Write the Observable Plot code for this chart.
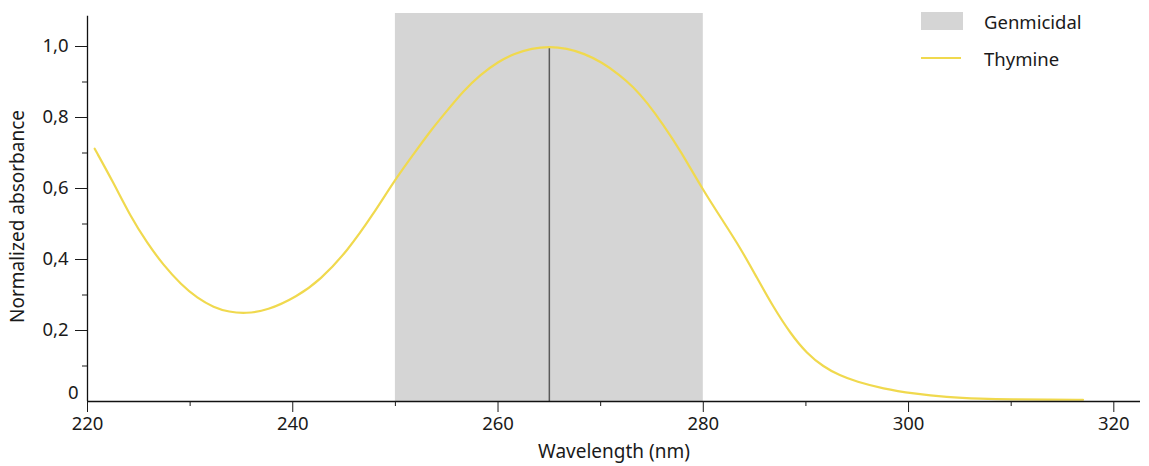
<!DOCTYPE html>
<html>
<head>
<meta charset="utf-8">
<script src="https://cdn.jsdelivr.net/npm/d3@7"></script>
<script src="https://cdn.jsdelivr.net/npm/@observablehq/plot@0.6"></script>
<style>
  body { margin: 0; background: #fff; font-family: "Noto Sans", sans-serif; }
  #wrap { position: relative; width: 1149px; height: 466px; }
  .legend { position: absolute; left: 921px; top: 6px; font-size: 18.5px; color: #1a1a1a; }
  .legend .row { display: flex; align-items: center; height: 30px; margin-bottom: 7px; }
  .legend .sw { width: 42px; margin-right: 21px; }
</style>
</head>
<body>
<div id="wrap"></div>
<script>
// Data
const wavelength = [220.7, 222.5, 224.2, 225.8, 227.4, 229.1, 230.7, 232.3, 233.8, 235.4, 237.5, 240.4, 242.7, 245.3, 247.9, 249.8, 251.8, 253.4, 255.0, 256.6, 258.3, 260.0, 261.6, 263.3, 265.0, 266.7, 268.4, 270.1, 271.8, 273.2, 274.5, 276.1, 277.7, 280.0, 282.0, 283.6, 285.2, 286.8, 288.5, 290.1, 291.7, 293.3, 294.9, 297.5, 300.5, 303.7, 307.0, 310.2, 313.5, 317.0];
const absorbance = [0.712, 0.618, 0.521, 0.447, 0.384, 0.330, 0.291, 0.265, 0.252, 0.248, 0.256, 0.295, 0.343, 0.423, 0.530, 0.618, 0.698, 0.762, 0.818, 0.874, 0.921, 0.957, 0.980, 0.995, 1.0, 0.995, 0.980, 0.956, 0.921, 0.886, 0.843, 0.780, 0.710, 0.594, 0.505, 0.433, 0.350, 0.267, 0.191, 0.135, 0.098, 0.073, 0.056, 0.036, 0.022, 0.012, 0.0075, 0.0056, 0.005, 0.005];
const germicidalBand = [250, 280];
const peakWavelength = 265;
const xMajorTicks = [220, 240, 260, 280, 300, 320];
const xMinorTicks = [230, 250, 270, 290, 310];
const yMajorTicks = [0.2, 0.4, 0.6, 0.8, 1.0];
const yMinorTicks = [0.1, 0.3, 0.5, 0.7, 0.9];
const legendLabels = ["Genmicidal", "Thymine"];
const xLabel = "Wavelength (nm)";
const yLabel = "Normalized absorbance";

const curveColor = "#f0d94e";
const bandColor = "#d5d5d5";

const curve = wavelength.map((w, i) => ({w, a: absorbance[i]}));
const fmt = d => d === 0 ? "0" : d.toFixed(1).replace(".", ",");

const plot = Plot.plot({
  width: 1149,
  height: 466,
  marginLeft: 87,
  marginRight: 9,
  marginTop: 13,
  marginBottom: 65,
  style: {fontFamily: "Noto Sans, sans-serif", fontSize: "18.5px", color: "#1a1a1a", background: "#fff"},
  x: {domain: [220, 322.6]},
  y: {domain: [0, 1.093]},
  marks: [
    Plot.rect([germicidalBand], {x1: d => d[0], x2: d => d[1], y1: 0, y2: 1.093, fill: bandColor}),
    Plot.ruleX([peakWavelength], {y1: 0, y2: 1.0, stroke: "#5a5a5a", strokeWidth: 1.5}),
    Plot.line(curve, {x: "w", y: "a", stroke: curveColor, strokeWidth: 2.2, curve: "basis"}),
    Plot.ruleY([0], {x1: 220, x2: 322.6, stroke: "#111", strokeWidth: 1.3}),
    Plot.ruleX([220], {y1: 0, y2: 1.085, stroke: "#111", strokeWidth: 1.3}),
    Plot.axisX({ticks: xMajorTicks, tickSize: 11, tickPadding: 4, tickFormat: d => String(d), label: null, fontSize: 18.5}),
    Plot.axisX({ticks: xMinorTicks, tickSize: 5, tickFormat: () => "", label: null}),
    Plot.axisY({ticks: yMajorTicks, tickSize: 12, tickPadding: 7, tickFormat: fmt, label: null, fontSize: 18.5}),
    Plot.axisY({ticks: [0], tickSize: 0, tickPadding: 9, tickFormat: fmt, label: null, dy: -8, fontSize: 18.5}),
    Plot.axisY({ticks: yMinorTicks, tickSize: 5, tickFormat: () => "", label: null}),
    Plot.text([xLabel], {frameAnchor: "bottom", dy: 56, text: d => d, fontSize: 19, fill: "#1a1a1a"}),
    Plot.text([yLabel], {frameAnchor: "left", dx: -70, dy: 9, rotate: -90, textAnchor: "middle", text: d => d, fontSize: 19, fill: "#1a1a1a"})
  ]
});

const wrap = document.getElementById("wrap");
wrap.appendChild(plot);

const legend = document.createElement("div");
legend.className = "legend";
legend.innerHTML = `
  <div class="row"><span class="sw" style="height:18px;background:${bandColor}"></span><span>${legendLabels[0]}</span></div>
  <div class="row"><span class="sw" style="height:2px;background:${curveColor};width:40px;margin-right:23px"></span><span>${legendLabels[1]}</span></div>`;
wrap.appendChild(legend);
</script>
</body>
</html>
